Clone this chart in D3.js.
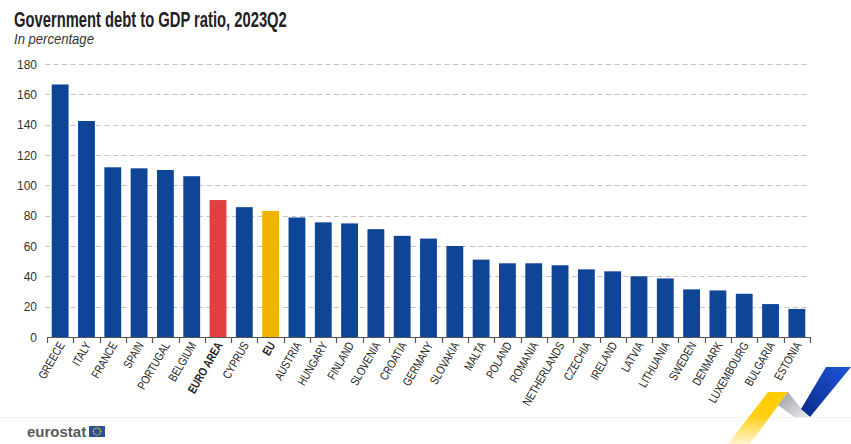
<!DOCTYPE html>
<html>
<head>
<meta charset="utf-8">
<script src="https://cdn.jsdelivr.net/npm/d3@7"></script>
<style>
  html, body { margin: 0; padding: 0; background: #fff; }
  svg { display: block; }
</style>
</head>
<body>
<svg id="chart" width="851" height="444"></svg>
<script>
const categories = ["GREECE","ITALY","FRANCE","SPAIN","PORTUGAL","BELGIUM","EURO AREA","CYPRUS","EU","AUSTRIA","HUNGARY","FINLAND","SLOVENIA","CROATIA","GERMANY","SLOVAKIA","MALTA","POLAND","ROMANIA","NETHERLANDS","CZECHIA","IRELAND","LATVIA","LITHUANIA","SWEDEN","DENMARK","LUXEMBOURG","BULGARIA","ESTONIA"];
const values = [166.5,142.4,111.9,111.2,110.1,106.0,90.3,85.6,83.1,78.8,75.6,74.9,71.1,66.7,64.9,60.0,51.0,48.6,48.6,47.3,44.6,43.3,40.0,38.6,31.4,30.7,28.5,21.7,18.5];
const highlight = {"EURO AREA": "#e2403e", "EU": "#efb300"};
const yTicks = [0,20,40,60,80,100,120,140,160,180];
const title = "Government debt to GDP ratio, 2023Q2";
const subtitle = "In percentage";

const svg = d3.select("#chart");
const sans = "'Liberation Sans', Arial, sans-serif";

const x = d3.scaleBand().domain(categories).range([47, 810]).paddingInner(0.36).paddingOuter(0.18);
const y = d3.scaleLinear().domain([0, 180]).range([337, 64]);

// title (condensed by horizontal scaling)
const t = svg.append("text").attr("x", 0).attr("y", 0)
  .style("font-family", sans).style("font-weight", "bold").style("font-size", "22.5px")
  .attr("fill", "#222").text(title);
const tw = t.node().getComputedTextLength();
t.attr("transform", `translate(14,27) scale(${(273 / tw).toFixed(4)},1)`);

const st = svg.append("text").attr("x", 0).attr("y", 0)
  .style("font-family", sans).style("font-style", "italic").style("font-size", "14px")
  .attr("fill", "#333").text(subtitle);
const sw = st.node().getComputedTextLength();
st.attr("transform", `translate(14,44) scale(${(80 / sw).toFixed(4)},1)`);

// gridlines
svg.append("g").selectAll("line").data(yTicks.filter(d => d > 0)).join("line")
  .attr("x1", 45).attr("x2", 810)
  .attr("y1", d => Math.round(y(d)) + 0.5).attr("y2", d => Math.round(y(d)) + 0.5)
  .attr("stroke", "#c4c4c4").attr("stroke-width", 1.2).attr("stroke-dasharray", "5,3.5");

// y labels
svg.append("g").selectAll("text").data(yTicks).join("text")
  .attr("x", 37).attr("y", d => y(d) + 4.5).attr("text-anchor", "end")
  .style("font-family", sans).style("font-size", "12px").attr("fill", "#333")
  .text(d => d);

// bars
svg.append("g").selectAll("rect").data(categories).join("rect")
  .attr("x", d => x(d)).attr("width", x.bandwidth())
  .attr("y", (d, i) => y(values[i])).attr("height", (d, i) => y(0) - y(values[i]))
  .attr("fill", d => highlight[d] || "#0e4597");

// x axis
const step = x.step();
const bounds = categories.map(d => x(d) - step * x.paddingInner() / 2);
bounds.push(x(categories[categories.length - 1]) + x.bandwidth() + step * x.paddingInner() / 2);
svg.append("line").attr("x1", bounds[0]).attr("x2", bounds[bounds.length - 1])
  .attr("y1", 337.5).attr("y2", 337.5).attr("stroke", "#555").attr("stroke-width", 1.2);
svg.append("g").selectAll("line").data(bounds).join("line")
  .attr("x1", d => Math.round(d) + 0.5).attr("x2", d => Math.round(d) + 0.5)
  .attr("y1", 337).attr("y2", 343).attr("stroke", "#555").attr("stroke-width", 1.2);

svg.append("g").selectAll("text").data(categories).join("text")
  .attr("transform", d => `translate(${x(d) + x.bandwidth() / 2 + 5},${345}) rotate(-60) scale(0.8,1)`)
  .attr("text-anchor", "end")
  .style("font-family", sans).style("font-size", "12px")
  .style("font-weight", d => highlight[d] ? "bold" : "normal")
  .attr("fill", "#222").text(d => d);

// faint separator
svg.append("line").attr("x1", 0).attr("x2", 851).attr("y1", 417.5).attr("y2", 417.5)
  .attr("stroke", "#f2f2f2");

// eurostat logo
svg.append("text").attr("x", 27).attr("y", 437)
  .style("font-family", sans).style("font-weight", "bold").style("font-size", "15px")
  .attr("fill", "#5a5a5a").text("eurostat");
svg.append("rect").attr("x", 89).attr("y", 426).attr("width", 16).attr("height", 11).attr("fill", "#2c4f9e");
const stars = d3.range(12);
svg.append("g").selectAll("circle").data(stars).join("circle")
  .attr("cx", d => 97 + 3.6 * Math.cos(d * Math.PI / 6))
  .attr("cy", d => 431.5 + 3.6 * Math.sin(d * Math.PI / 6))
  .attr("r", 0.7).attr("fill", "#f5d300");

// ribbon decoration
const defs = svg.append("defs");
const yg = defs.append("linearGradient").attr("id", "yg").attr("x1", 0).attr("y1", 0).attr("x2", 0).attr("y2", 1);
yg.append("stop").attr("offset", "0%").attr("stop-color", "#ffcc00");
yg.append("stop").attr("offset", "45%").attr("stop-color", "#ffcf10");
yg.append("stop").attr("offset", "100%").attr("stop-color", "#fff6d0");
const gg = defs.append("linearGradient").attr("id", "gg").attr("x1", 0).attr("y1", 0).attr("x2", 1).attr("y2", 1);
gg.append("stop").attr("offset", "0%").attr("stop-color", "#9a9ca2");
gg.append("stop").attr("offset", "100%").attr("stop-color", "#e8e9ee");
const bg = defs.append("linearGradient").attr("id", "bg").attr("x1", 0).attr("y1", 1).attr("x2", 1).attr("y2", 0);
bg.append("stop").attr("offset", "0%").attr("stop-color", "#0a2a8a");
bg.append("stop").attr("offset", "100%").attr("stop-color", "#1f55d8");
const line = d3.line();
svg.append("path").attr("d", line([[768,392],[788,392],[750,444],[728,444]]) + "Z").attr("fill", "url(#yg)");
svg.append("path").attr("d", line([[788,392],[808,417],[794,417],[778,405]]) + "Z").attr("fill", "url(#gg)");
svg.append("path").attr("d", line([[826,367],[851,367],[810,417],[801,409]]) + "Z").attr("fill", "url(#bg)");
</script>
</body>
</html>
